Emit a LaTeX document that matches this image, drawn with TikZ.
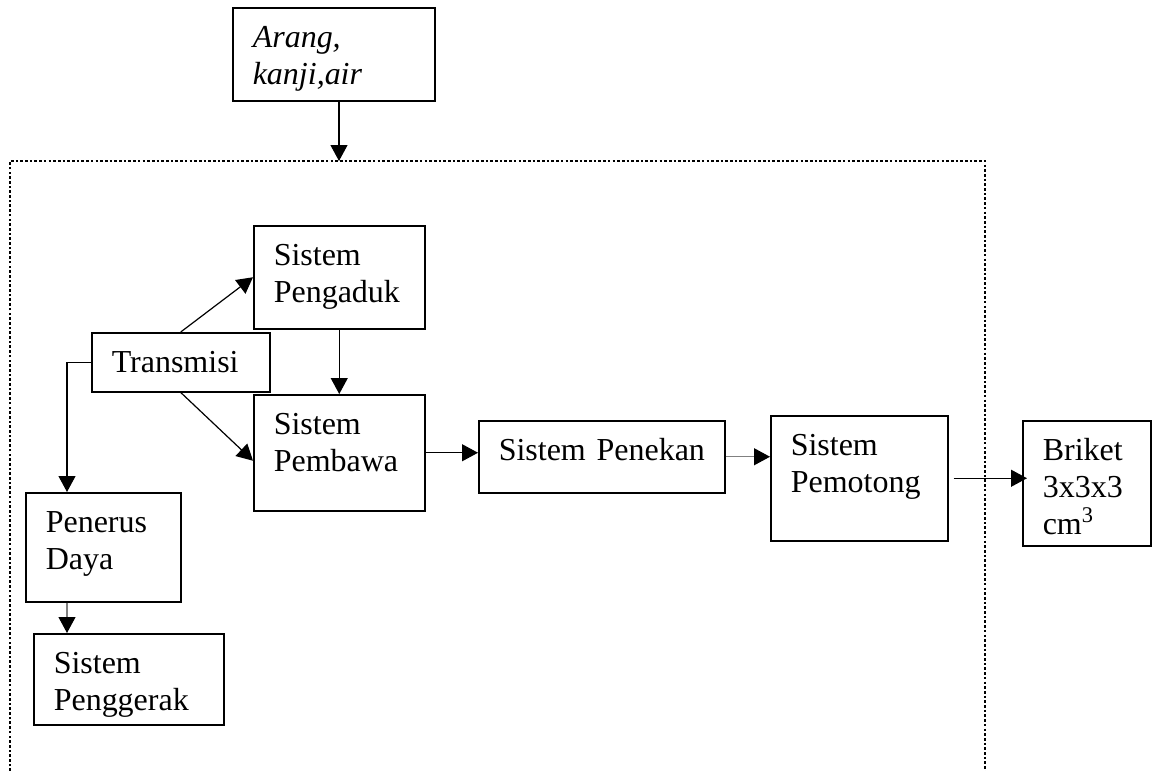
\documentclass[tikz,border=0pt]{standalone}
\usepackage{fontspec}
\setmainfont{Liberation Serif}
\usetikzlibrary{arrows.meta}

\begin{document}
\begin{tikzpicture}[x=0.5pt, y=-0.5pt,
    >={Triangle[length=8pt,width=8.5pt]},
    blok/.style={draw, line width=0.75pt, anchor=north west, align=left,
        font=\fontsize{16}{18.5}\selectfont, inner xsep=10pt, inner ysep=8.5pt,
        text height=11.5pt},
    panah/.style={->, line width=0.6pt},
    panahabu/.style={line width=0.6pt, draw=gray, -{Triangle[length=8pt,width=8.5pt,black]}},
    bingkai/.style={line width=1.3pt, dash pattern=on 1.3pt off 1.05pt}]
    \useasboundingbox (0,0) rectangle (1153,771);
    \node[blok, text width=81pt, text depth=18pt, font=\fontsize{16}{18.5}\selectfont\itshape] (arang) at (232,7) {Arang,\\kanji,air};
    \coordinate (masuk) at (339,161);
    \draw[panah] (arang.south -| masuk) -- (masuk);
    \draw[bingkai] (10,771) -- (10,161) -- (985,161) -- (985,771);
    \node[blok, text width=65.5pt, text depth=23pt] (pengaduk) at (253,225) {Sistem\\Pengaduk};
    \node[blok, text width=69pt, text depth=1pt] (transmisi) at (91,332) {Transmisi};
    \node[blok, text width=65.5pt, text depth=29.5pt] (pembawa) at (253,394) {Sistem\\Pembawa};
    \node[blok, text width=103pt, text depth=7.5pt] (penekan) at (478,420) {\mbox{Sistem Penekan}};
    \node[blok, text width=68.5pt, text depth=34pt] (pemotong) at (770,415) {Sistem\\Pemotong};
    \node[blok, text width=44pt, text depth=34pt] (briket) at (1022,420) {Briket\\3x3x3\\cm\textsuperscript{3}};
    \node[blok, text width=57.5pt, text depth=26pt] (penerus) at (25,492) {Penerus\\Daya};
    \node[blok, text width=75pt, text depth=17pt] (penggerak) at (33,633) {Sistem\\Penggerak};
    \draw[panah] (transmisi.north) -- (pengaduk.west);
    \draw[panah] (transmisi.south) -- ([yshift=-4pt]pembawa.west);
    \draw[panah] (pengaduk.south) -- (pengaduk.south |- pembawa.north);
    \draw[panah] (transmisi.west) -| ([xshift=21pt]penerus.north west);
    \draw[panahabu] ([xshift=21pt]penerus.south west) -- ([xshift=21pt]penerus.south west |- penggerak.north);
    \draw[panah] (pembawa.east) -- (pembawa.east -| penekan.west);
    \draw[panahabu] (penekan.east) -- (penekan.east -| pemotong.west);
    \draw[panah] ([xshift=2.5pt]pemotong.east) -- ([xshift=2.5pt]pemotong.east -| briket.west);
\end{tikzpicture}
\end{document}
